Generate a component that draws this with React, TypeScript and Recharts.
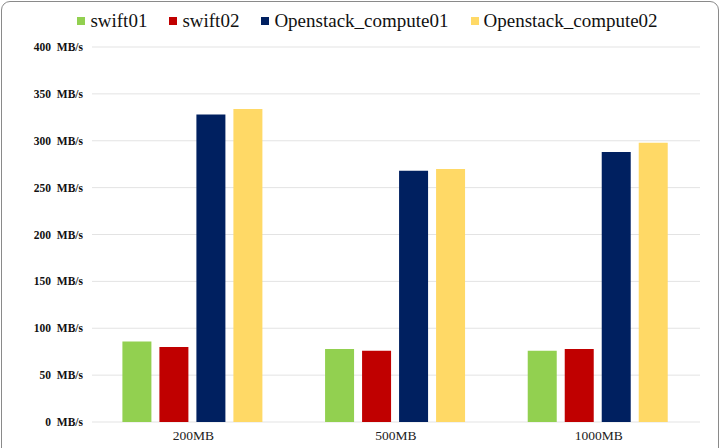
import { BarChart, Bar, XAxis, YAxis, CartesianGrid, Legend } from "recharts";

const CATEGORIES = ["200MB", "500MB", "1000MB"];
const SWIFT01 = [86, 78, 76];
const SWIFT02 = [80, 76, 78];
const COMPUTE01 = [328, 268, 288];
const COMPUTE02 = [334, 270, 298];
const Y_TICKS = [0, 50, 100, 150, 200, 250, 300, 350, 400];

const SERIES = [
  { key: "swift01", color: "#92D050" },
  { key: "swift02", color: "#C00000" },
  { key: "Openstack_compute01", color: "#002060" },
  { key: "Openstack_compute02", color: "#FFD966" },
];

const data = CATEGORIES.map((name, i) => ({
  name,
  swift01: SWIFT01[i],
  swift02: SWIFT02[i],
  Openstack_compute01: COMPUTE01[i],
  Openstack_compute02: COMPUTE02[i],
}));

const FONT = '"Liberation Serif", "Times New Roman", serif';

function LegendContent() {
  return (
    <div
      style={{
        display: "flex",
        justifyContent: "center",
        gap: 22,
        paddingLeft: 14,
        fontFamily: FONT,
        fontSize: 19,
        color: "#111",
        lineHeight: "22px",
      }}
    >
      {SERIES.map((s) => (
        <div key={s.key} style={{ display: "flex", alignItems: "center", gap: 5 }}>
          <div style={{ width: 8, height: 8, background: s.color }} />
          <span>{s.key}</span>
        </div>
      ))}
    </div>
  );
}

export default function App() {
  return (
    <div style={{ position: "absolute", left: 0, top: 0, width: 721, height: 448, overflow: "hidden", background: "#fff" }}>
      <div
        style={{
          position: "absolute",
          left: 1,
          top: 1,
          width: 716,
          height: 470,
          border: "1.5px solid #8a8a8a",
          borderRadius: 9,
        }}
      />
      <BarChart
        width={721}
        height={448}
        data={data}
        margin={{ top: 25, right: 21, left: 0, bottom: 0 }}
        barCategoryGap="15%"
        barGap={8}
      >
        <CartesianGrid vertical={false} stroke="#e3e3e3" />
        <XAxis
          dataKey="name"
          axisLine={false}
          tickLine={false}
          height={26}
          tickMargin={2}
          tick={{ fontFamily: FONT, fontSize: 13.5, fill: "#222" }}
        />
        <YAxis
          width={92}
          domain={[0, 400]}
          ticks={Y_TICKS}
          axisLine={false}
          tickLine={false}
          tickMargin={3}
          tickFormatter={(v) => `${v}\u00A0\u00A0MB/s`}
          tick={{ fontFamily: FONT, fontSize: 11.5, fontWeight: "bold", fill: "#111" }}
        />
        <Legend
          verticalAlign="top"
          content={<LegendContent />}
          wrapperStyle={{ position: "absolute", top: 10, left: 0, width: 721 }}
        />
        {SERIES.map((s) => (
          <Bar key={s.key} dataKey={s.key} fill={s.color} isAnimationActive={false} />
        ))}
      </BarChart>
    </div>
  );
}
